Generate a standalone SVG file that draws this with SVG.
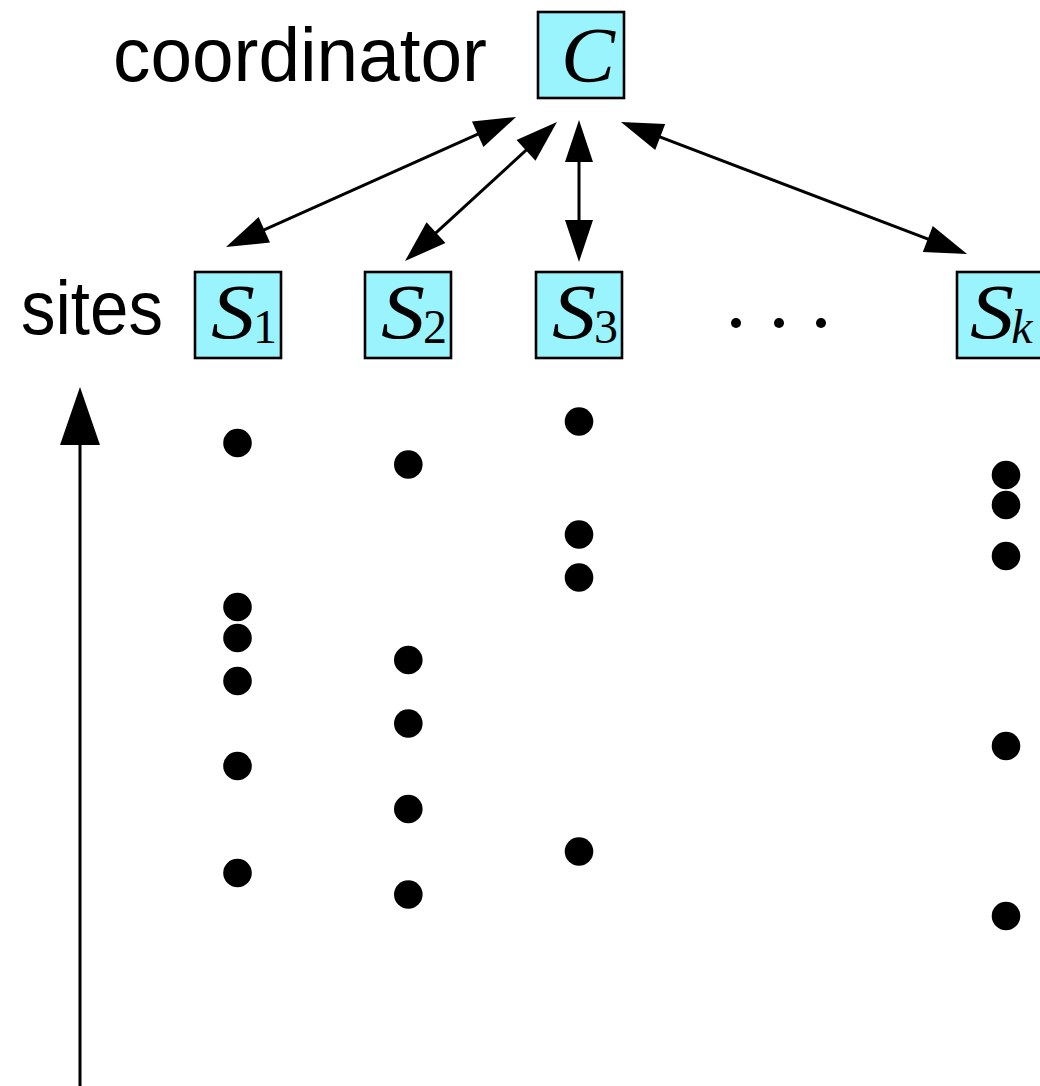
<svg xmlns="http://www.w3.org/2000/svg" width="1040" height="1086" viewBox="0 0 1040 1086">
  <style>
    .box { fill: #9af4fd; stroke: #000; stroke-width: 2.6; }
    .label { font-family: "Liberation Sans", Arial, sans-serif; font-size: 76px; fill: #000; }
    .math { font-family: "Liberation Serif", "Times New Roman", serif; font-style: italic; font-size: 78px; fill: #000; }
    .sub { font-family: "Liberation Serif", "Times New Roman", serif; font-size: 48px; fill: #000; }
    .subi { font-family: "Liberation Serif", "Times New Roman", serif; font-style: italic; font-size: 48px; fill: #000; }
    .link { stroke: #000; stroke-width: 3; fill: none; marker-start: url(#head); marker-end: url(#head); }
    .event { fill: #000; }
  </style>
  <defs>
    <marker id="head" markerUnits="userSpaceOnUse" markerWidth="44" markerHeight="30" refX="32" refY="14" orient="auto-start-reverse" overflow="visible">
      <path d="M0,0 L42,14 L0,28 z" fill="#000"/>
    </marker>
    <marker id="axishead" markerUnits="userSpaceOnUse" markerWidth="60" markerHeight="42" refX="48" refY="20" orient="auto" overflow="visible">
      <path d="M0,0 L58,20 L0,40 z" fill="#000"/>
    </marker>
  </defs>

  <rect width="1040" height="1086" fill="#fff"/>

  <!-- row labels -->
  <text class="label" x="113" y="81" textLength="374" lengthAdjust="spacingAndGlyphs">coordinator</text>
  <text class="label" x="21" y="334" textLength="142" lengthAdjust="spacingAndGlyphs">sites</text>

  <!-- coordinator node -->
  <g id="node-C">
    <rect class="box" x="538" y="12" width="86" height="86"/>
    <text class="math" x="588" y="81" text-anchor="middle" textLength="54" lengthAdjust="spacingAndGlyphs">C</text>
  </g>

  <!-- site nodes -->
  <g id="node-S1">
    <rect class="box" x="195" y="272" width="86" height="86"/>
    <text class="math" x="233" y="338" text-anchor="middle" textLength="44" lengthAdjust="spacingAndGlyphs">S</text>
    <text class="sub" x="265" y="343" text-anchor="middle">1</text>
  </g>
  <g id="node-S2">
    <rect class="box" x="365" y="272" width="86" height="86"/>
    <text class="math" x="403" y="338" text-anchor="middle" textLength="44" lengthAdjust="spacingAndGlyphs">S</text>
    <text class="sub" x="435" y="343" text-anchor="middle">2</text>
  </g>
  <g id="node-S3">
    <rect class="box" x="536" y="272" width="86" height="86"/>
    <text class="math" x="574" y="338" text-anchor="middle" textLength="44" lengthAdjust="spacingAndGlyphs">S</text>
    <text class="sub" x="606" y="343" text-anchor="middle">3</text>
  </g>
  <g id="node-Sk">
    <rect class="box" x="957" y="272" width="86" height="86"/>
    <text class="math" x="992" y="338" text-anchor="middle" textLength="44" lengthAdjust="spacingAndGlyphs">S</text>
    <text class="subi" x="1022" y="343" text-anchor="middle">k</text>
  </g>

  <!-- ellipsis between S3 and Sk -->
  <g id="ellipsis">
    <circle cx="736" cy="323" r="5"/>
    <circle cx="779" cy="323" r="5"/>
    <circle cx="821" cy="323" r="5"/>
  </g>

  <!-- two-way links coordinator <-> sites -->
  <g id="connectors">
    <line class="link" x1="506.9" y1="121.1" x2="235.1" y2="242.9"/>
    <line class="link" x1="549.6" y1="128.7" x2="412.4" y2="254.3"/>
    <line class="link" x1="579" y1="130" x2="579" y2="252"/>
    <line class="link" x1="630.3" y1="125.6" x2="957.7" y2="250.4"/>
    <!-- time axis -->
    <line x1="80" y1="1086" x2="80" y2="397" stroke="#000" stroke-width="3" marker-end="url(#axishead)"/>
  </g>

  <!-- events per site -->
  <g id="events-S1" class="event">
    <circle cx="237.5" cy="443" r="14.3"/>
    <circle cx="237.5" cy="607" r="14.3"/>
    <circle cx="237.5" cy="638" r="14.3"/>
    <circle cx="237.5" cy="681" r="14.3"/>
    <circle cx="237.5" cy="766" r="14.3"/>
    <circle cx="237.5" cy="873" r="14.3"/>
  </g>
  <g id="events-S2" class="event">
    <circle cx="408.3" cy="464.5" r="14.3"/>
    <circle cx="408.3" cy="660" r="14.3"/>
    <circle cx="408.3" cy="723.5" r="14.3"/>
    <circle cx="408.3" cy="809" r="14.3"/>
    <circle cx="408.3" cy="894.5" r="14.3"/>
  </g>
  <g id="events-S3" class="event">
    <circle cx="579" cy="421.5" r="14.3"/>
    <circle cx="579" cy="534.5" r="14.3"/>
    <circle cx="579" cy="577.5" r="14.3"/>
    <circle cx="579" cy="851.5" r="14.3"/>
  </g>
  <g id="events-Sk" class="event">
    <circle cx="1006" cy="475" r="14.3"/>
    <circle cx="1006" cy="505" r="14.3"/>
    <circle cx="1006" cy="556" r="14.3"/>
    <circle cx="1006" cy="746" r="14.3"/>
    <circle cx="1006" cy="916" r="14.3"/>
  </g>
</svg>
